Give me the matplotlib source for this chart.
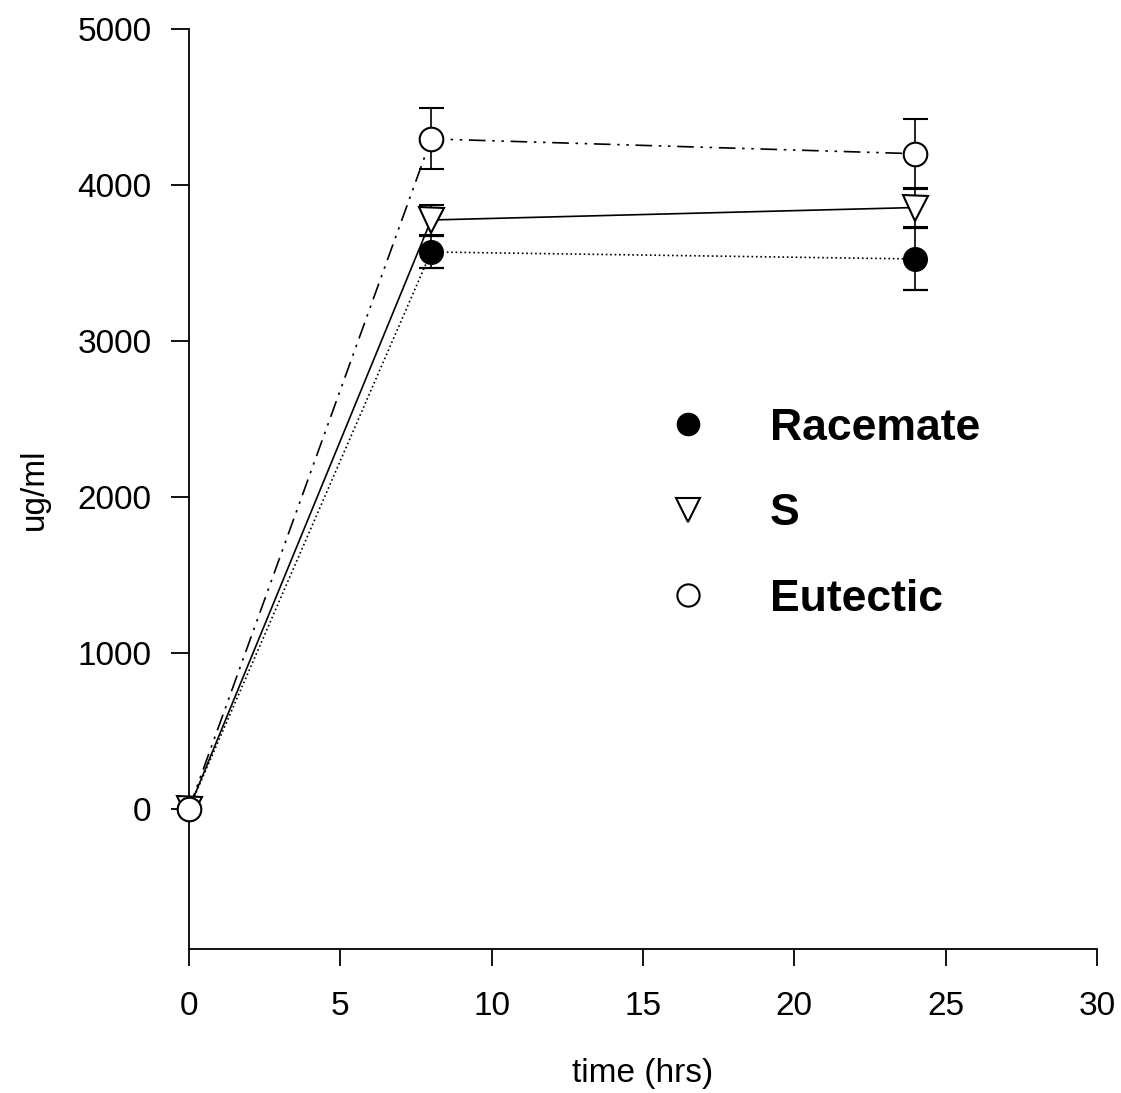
import matplotlib
matplotlib.use('Agg')
import matplotlib.pyplot as plt
from matplotlib.lines import Line2D

plt.rcParams['font.family'] = ['Liberation Sans', 'DejaVu Sans']

# data
time_hrs = [0, 8, 24]
racemate = [0, 3570, 3525]
racemate_err = [0, 100, 200]
s_form = [0, 3775, 3855]
s_err = [0, 95, 125]
eutectic = [0, 4295, 4200]
eutectic_err = [0, 195, 225]

labels = ['Racemate', 'S', 'Eutectic']
x_ticks = [0, 5, 10, 15, 20, 25, 30]
y_ticks = [0, 1000, 2000, 3000, 4000, 5000]

fig = plt.figure(figsize=(11.21, 10.93), dpi=100)
ax = fig.add_axes([0.1686, 0.1317, 0.81, 0.8418])

ms = 17
common = dict(color='black', capsize=9, elinewidth=1.2, capthick=1.6, lw=1.2, clip_on=False)
ax.errorbar(time_hrs, racemate, yerr=racemate_err, fmt='o', ls=':', mfc='black',
            mec='black', ms=ms, zorder=3, **common)
ax.errorbar(time_hrs, s_form, yerr=s_err, fmt='v', ls='-', mfc='white',
            mec='black', ms=ms + 1, mew=1.5, zorder=4, **common)
ax.errorbar(time_hrs, eutectic, yerr=eutectic_err, fmt='o', ls=(0, (10, 4, 1.5, 4, 1.5, 4)),
            mfc='white', mec='black', ms=ms, mew=1.5, zorder=5, **common)

ax.set_xlim(0, 30)
ax.set_ylim(-900, 5000)
ax.set_xticks(x_ticks)
ax.set_yticks(y_ticks)
ax.spines['top'].set_visible(False)
ax.spines['right'].set_visible(False)
ax.spines['left'].set_linewidth(1.3)
ax.spines['bottom'].set_linewidth(1.3)
ax.tick_params(axis='y', direction='out', length=13, width=1.3, pad=14, labelsize=24)
ax.tick_params(axis='x', direction='out', length=12, width=1.3, pad=18, labelsize=24)

ax.set_xlabel('time (hrs)', fontsize=24, labelpad=26)
ax.set_ylabel('ug/ml', fontsize=24, labelpad=20)

handles = [
    Line2D([], [], marker='o', ls='none', mfc='black', mec='black', ms=16),
    Line2D([], [], marker='v', ls='none', mfc='white', mec='black', ms=17, mew=1.5),
    Line2D([], [], marker='o', ls='none', mfc='white', mec='black', ms=16, mew=1.5),
]
leg = ax.legend(handles, labels, loc='center left', bbox_to_anchor=(0.525, 0.473),
                frameon=False, borderpad=0, borderaxespad=0, handlelength=1.0,
                handletextpad=1.35, labelspacing=1.0,
                prop={'size': 32, 'weight': 'bold'})

fig.savefig('out.png', dpi=100)
